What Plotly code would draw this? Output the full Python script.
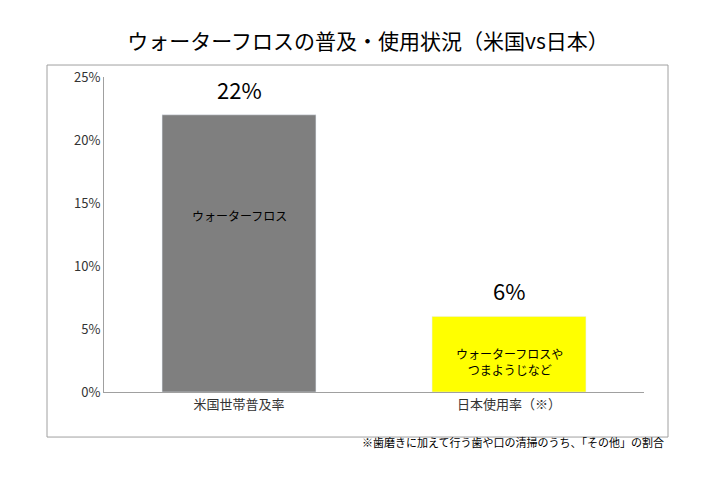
import plotly.graph_objects as go

categories = ["米国世帯普及率", "日本使用率（※）"]
values = [22, 6]
value_labels = ["22%", "6%"]
inner_labels = ["ウォーターフロス", "ウォーターフロスや<br>つまようじなど"]
inner_y = [14, 2.4]
colors = ["#7f7f7f", "#ffff00"]
tick_vals = [0, 5, 10, 15, 20, 25]
tick_text = ["0%", "5%", "10%", "15%", "20%", "25%"]

F = "Noto Sans CJK JP"
fig = go.Figure(go.Bar(x=categories, y=values, marker_color=colors, width=0.57, hoverinfo="skip"))

for c, v, lab, il, iy in zip(categories, values, value_labels, inner_labels, inner_y):
    fig.add_annotation(x=c, y=v, text=lab, showarrow=False, yshift=26,
                       font=dict(family=F, size=22, color="black"))
    fig.add_annotation(x=c, y=iy, text=il, showarrow=False,
                       font=dict(family=F, size=12, color="black"))

fig.add_annotation(xref="paper", yref="paper", x=1.04, y=-0.19, xanchor="right",
                   text="※歯磨きに加えて行う歯や口の清掃のうち、「その他」の割合",
                   showarrow=False, font=dict(family=F, size=11, color="black"))
fig.add_shape(type="rect", xref="paper", yref="paper",
              x0=(47-104)/540, x1=(668-104)/540, y0=-0.143, y1=1.038,
              line=dict(color="#a0a0a0", width=1))

fig.update_layout(
    width=720, height=480, margin=dict(l=96, r=84, t=69, b=96),
    paper_bgcolor="white", plot_bgcolor="white", showlegend=False,
    title=dict(text="ウォーターフロスの普及・使用状況（米国vs日本）", x=0.5, xanchor="center",
               y=0.93, yanchor="middle", font=dict(family=F, size=21, color="black")),
    xaxis=dict(showline=True, linecolor="#a0a0a0", ticks="", tickfont=dict(family=F, size=13, color="#333")),
    yaxis=dict(range=[0, 25], tickvals=tick_vals, ticktext=tick_text, showgrid=False,
               showline=True, linecolor="#a0a0a0", ticks="",
               tickfont=dict(family=F, size=13, color="#333"), zeroline=False),
)
fig.write_html("out.html")
